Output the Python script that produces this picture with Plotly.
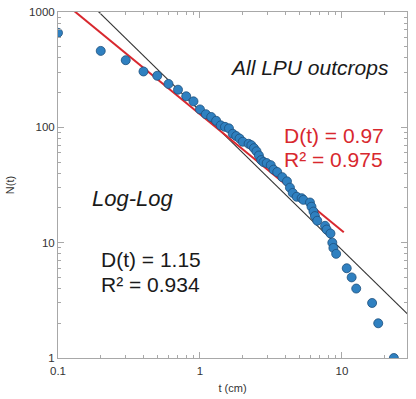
import numpy as np
import plotly.graph_objects as go

# Cumulative frequency data: thickness t (cm) vs N(t)
t_cm = [0.1, 0.2, 0.3, 0.4, 0.5, 0.6, 0.7, 0.8, 0.9, 1.0,
        1.1, 1.2, 1.3, 1.4, 1.5, 1.6, 1.7, 1.8, 1.9, 2.0,
        2.2, 2.3, 2.4, 2.5, 2.6, 2.7, 2.8, 2.95, 3.15, 3.3,
        3.5, 3.8, 4.1, 4.3, 4.5, 4.8, 5.2, 5.35, 5.95, 6.1,
        6.3, 6.45, 6.7, 7.6, 7.8, 8.3, 8.55, 8.7, 9.1, 10.8,
        11.7, 12.6, 16.3, 18.0, 23.2]
N_t = [660, 460, 382, 305, 280, 238, 212, 186, 168, 143,
       130, 123, 114, 104, 101, 98, 88, 84, 80, 75,
       72, 70, 66, 62, 57, 52, 50, 49, 47, 43,
       41, 37, 34, 30, 27, 25, 24.3, 23.5, 22.3, 20.5,
       18.6, 17, 15.5, 14, 13, 12, 10, 9, 8, 6,
       5, 4, 3, 2, 1]

# Power-law fits N = C * t^(-b)
fit_all_C, fit_all_b = 138.7, 1.204      # black line, D(t) = 1.15
fit_all_t = [0.1, 30.0]
fit_mid_C, fit_mid_b = 130.0, 1.01       # red line, D(t) = 0.97
fit_mid_t = [0.1, 10.3]

x_ticks = [0.1, 1, 10]
y_ticks = [1, 10, 100, 1000]
x_minor = [m * d for d in (0.1, 1, 10) for m in range(2, 10)]
y_minor = [m * d for d in (1, 10, 100) for m in range(2, 10)]

FONT = "Liberation Sans, Arial, sans-serif"

def power_line(ts, C, b):
    ts = np.array(ts, dtype=float)
    return ts, C * ts ** (-b)

bx, by = power_line(fit_all_t, fit_all_C, fit_all_b)
rx, ry = power_line(fit_mid_t, fit_mid_C, fit_mid_b)

fig = go.Figure()
fig.add_trace(go.Scatter(x=bx, y=by, mode="lines",
                         line=dict(color="#333333", width=1.1),
                         showlegend=False, hoverinfo="skip"))
fig.add_trace(go.Scatter(x=rx, y=ry, mode="lines",
                         line=dict(color="#d8282e", width=2),
                         showlegend=False, hoverinfo="skip"))
fig.add_trace(go.Scatter(x=t_cm, y=N_t, mode="markers",
                         marker=dict(size=9, color="#2f80c0",
                                     line=dict(color="#1d4f7c", width=0.8)),
                         showlegend=False))

def axis(rng, ticks, minor, title, standoff, label_standoff):
    return dict(
        type="log", range=rng, automargin=False,
        showline=True, linecolor="#a8a8a8", linewidth=1, mirror="ticks",
        ticks="inside", ticklen=6, tickcolor="#a8a8a8", showgrid=False, zeroline=False,
        tickmode="array", tickvals=ticks, ticktext=[str(v) for v in ticks],
        ticklabelstandoff=label_standoff,
        tickfont=dict(family=FONT, size=11.5, color="#333333"),
        minor=dict(ticks="inside", ticklen=3, tickcolor="#a8a8a8", showgrid=False,
                   tickmode="array", tickvals=minor),
        title=dict(text=title, font=dict(family=FONT, size=11, color="#333333"), standoff=standoff),
    )

fig.update_layout(
    width=416, height=399,
    margin=dict(l=58, r=9, t=12, b=41),
    paper_bgcolor="white", plot_bgcolor="white",
    xaxis=axis([-1, 1.458], x_ticks, x_minor, "t (cm)", 8, 2),
    yaxis=axis([0, 3], y_ticks, y_minor, "N(t)", 12, 0),
    font=dict(family=FONT),
)

ann = [
    dict(text="<i>All LPU outcrops</i>", x=0.954, y=0.841, xanchor="right", size=21, color="#1a1a1a"),
    dict(text="D(t) = 0.97", x=0.643, y=0.642, xanchor="left", size=21, color="#d8282e"),
    dict(text="R² = 0.975", x=0.643, y=0.573, xanchor="left", size=21, color="#d8282e"),
    dict(text="<i>Log-Log</i>", x=0.092, y=0.462, xanchor="left", size=22, color="#1a1a1a"),
    dict(text="D(t) = 1.15", x=0.117, y=0.286, xanchor="left", size=21, color="#1a1a1a"),
    dict(text="R² = 0.934", x=0.117, y=0.211, xanchor="left", size=21, color="#1a1a1a"),
]
for a in ann:
    fig.add_annotation(text=a["text"], x=a["x"], y=a["y"], xref="paper", yref="paper",
                       xanchor=a["xanchor"], yanchor="middle", showarrow=False,
                       font=dict(family=FONT, size=a["size"], color=a["color"]))

fig.write_html("out.html", config={"displayModeBar": False},
               post_script="document.body.style.margin='0';document.body.style.overflow='hidden';")
